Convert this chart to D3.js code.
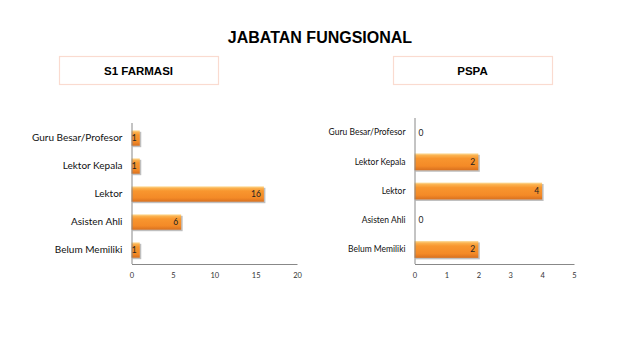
<!DOCTYPE html>
<html><head><meta charset="utf-8">
<script src="https://cdn.jsdelivr.net/npm/d3@7"></script>
<style>body{margin:0;background:#fff}svg{display:block}</style>
</head><body>
<script>
const categories = ["Guru Besar/Profesor","Lektor Kepala","Lektor","Asisten Ahli","Belum Memiliki"];
const farmasiValues = [1,1,16,6,1];
const pspaValues = [0,2,4,0,2];
const farmasiTicks = [0,5,10,15,20];
const pspaTicks = [0,1,2,3,4,5];
const title = "JABATAN FUNGSIONAL";
const panelTitles = ["S1 FARMASI","PSPA"];

const W=640,H=360;
const svg=d3.select("body").append("svg").attr("width",W).attr("height",H);
const defs=svg.append("defs");
const g=defs.append("linearGradient").attr("id","barg").attr("x1",0).attr("y1",0).attr("x2",0).attr("y2",1);
[[0,"#fde1a6"],[0.12,"#fbb24f"],[0.3,"#f8962f"],[0.75,"#f48a27"],[1,"#d8701f"]].forEach(s=>g.append("stop").attr("offset",s[0]).attr("stop-color",s[1]));

svg.append("text").attr("x",320).attr("y",43).attr("text-anchor","middle")
  .attr("font-family","Liberation Sans, Arial, sans-serif").attr("font-weight","bold").attr("font-size",16)
  .attr("fill","#000").text(title);

const lab="Lato, Carlito, sans-serif";
function panel(cfg){
  svg.append("rect").attr("x",cfg.box[0]+0.5).attr("y",56.5).attr("width",cfg.box[1]-cfg.box[0]).attr("height",28)
    .attr("fill","#fff").attr("stroke","#fadbd0").attr("stroke-width",1.2);
  svg.append("text").attr("x",(cfg.box[0]+cfg.box[1])/2).attr("y",75).attr("text-anchor","middle")
    .attr("font-family","Liberation Sans, Arial, sans-serif").attr("font-weight","bold").attr("font-size",11.5)
    .text(cfg.title);
  const x=d3.scaleLinear().domain([0,cfg.ticks[cfg.ticks.length-1]]).range([cfg.x0,cfg.x1]);
  const y=d3.scaleBand().domain(categories).range([cfg.y0,cfg.y1]).paddingInner(cfg.pad).paddingOuter(cfg.pad/2);
  const gr=svg.append("g");
  const data=categories.map((c,i)=>({c,v:cfg.values[i]}));
  gr.selectAll("rect.sh").data(data.filter(d=>d.v>0)).join("rect").attr("class","sh")
    .attr("x",x(0)+1).attr("y",d=>y(d.c)+1.5).attr("width",d=>x(d.v)-x(0)+0.5).attr("height",y.bandwidth())
    .attr("fill","#8a8a8a").attr("opacity",0.55);
  gr.selectAll("rect.bar").data(data).join("rect").attr("class","bar")
    .attr("x",x(0)).attr("y",d=>y(d.c)).attr("width",d=>x(d.v)-x(0)).attr("height",y.bandwidth())
    .attr("fill","url(#barg)");
  const ax=d3.axisBottom(x).tickValues(cfg.ticks).tickFormat(d3.format("d")).tickSize(0).tickPadding(9);
  const axg=gr.append("g").attr("transform",`translate(0,${cfg.y1})`).call(ax);
  axg.select(".domain").attr("stroke","#888");
  axg.selectAll("text").attr("font-family",lab).attr("font-size",7.5).attr("fill","#333");
  const ay=d3.axisLeft(y).tickSize(0).tickPadding(cfg.lpad);
  const ayg=gr.append("g").attr("transform",`translate(${cfg.x0},0)`).call(ay);
  ayg.select(".domain").attr("stroke","#888").attr("d",`M0.5,${cfg.yTop}V${cfg.y1}`);
  ayg.selectAll("text").attr("font-family",lab).attr("font-size",cfg.lfs).attr("fill","#111");
  gr.selectAll("text.val").data(data).join("text").attr("class","val")
    .attr("x",d=>d.v>0?x(d.v)-3:x(0)+4).attr("y",d=>y(d.c)+y.bandwidth()/2+3)
    .attr("text-anchor",d=>d.v>0?"end":"start")
    .attr("font-family",lab).attr("font-size",8.5).attr("fill","#222")
    .text(d=>d.v);
}
panel({title:panelTitles[0],box:[59,218],values:farmasiValues,ticks:farmasiTicks,x0:131.5,x1:297,y0:124,y1:264,yTop:123,pad:0.45,lpad:9,lfs:10});
panel({title:panelTitles[1],box:[393,552],values:pspaValues,ticks:pspaTicks,x0:414.5,x1:574,y0:118,y1:264,yTop:118,pad:0.42,lpad:9,lfs:8.5});
</script>
</body></html>
